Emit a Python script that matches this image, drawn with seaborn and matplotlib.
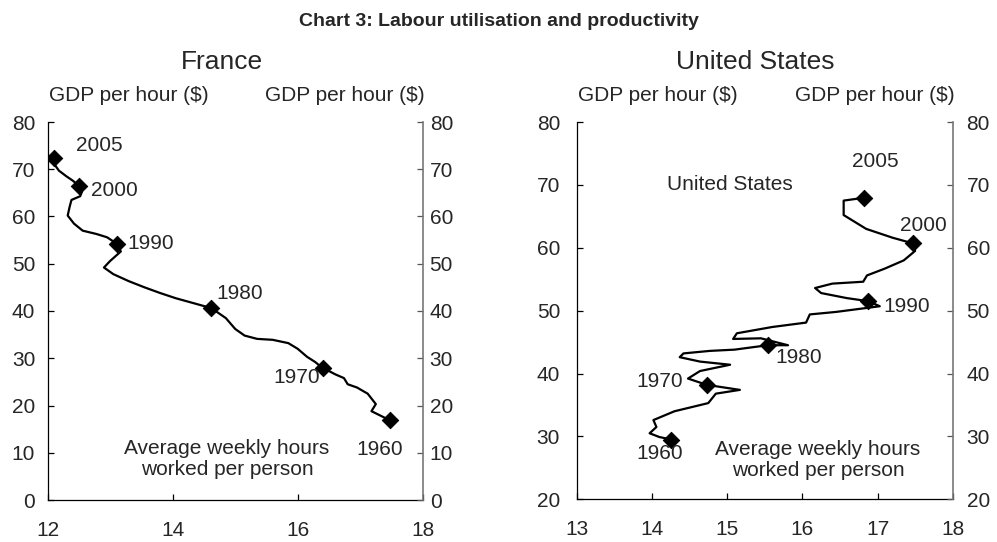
import numpy as np
import pandas as pd
import matplotlib
matplotlib.use("Agg")
import matplotlib.pyplot as plt
import seaborn as sns

# Annual series 1960-2005
years = list(range(1960, 2006))

fr_hours = [17.47, 17.18, 17.25, 17.12, 16.95, 16.80, 16.74, 16.60, 16.50, 16.45,
            16.40, 16.28, 16.15, 16.00, 15.85, 15.60, 15.35, 15.15, 15.00, 14.85,
            14.62, 14.35, 14.05, 13.80, 13.55, 13.30, 13.05, 12.90, 13.00, 13.17,
            13.11, 12.95, 12.78, 12.56, 12.42, 12.32, 12.35, 12.38, 12.52, 12.55,
            12.50, 12.40, 12.30, 12.18, 12.12, 12.10]
fr_gdp = [16.9, 18.8, 20.3, 22.5, 23.8, 24.5, 25.8, 26.6, 27.3, 27.6,
          27.9, 29.2, 30.3, 32.0, 33.2, 33.9, 34.1, 34.8, 36.2, 38.5,
          40.6, 41.6, 42.7, 43.8, 45.0, 46.3, 47.8, 49.2, 50.6, 52.6,
          54.2, 55.6, 56.3, 57.0, 58.5, 60.2, 62.0, 63.5, 64.3, 65.3,
          66.5, 67.6, 68.5, 69.7, 70.8, 72.4]

us_hours = [14.26, 14.10, 13.97, 14.06, 14.02, 14.30, 14.75, 14.85, 15.17, 14.95,
            14.73, 14.48, 14.64, 15.04, 14.64, 14.37, 14.42, 14.77, 15.10, 15.35,
            15.54, 15.81, 15.45, 15.08, 15.13, 15.60, 16.05, 16.10, 16.45, 17.03,
            16.88, 16.59, 16.25, 16.17, 16.40, 16.81, 16.86, 17.10, 17.35, 17.50,
            17.47, 17.20, 16.85, 16.55, 16.55, 16.82]
us_gdp = [29.5, 29.9, 30.5, 31.5, 32.6, 34.0, 35.3, 36.8, 37.4, 37.8,
          38.2, 39.2, 40.4, 41.4, 41.9, 42.6, 43.2, 43.6, 43.8, 44.2,
          44.5, 44.5, 45.6, 45.5, 46.4, 47.4, 48.1, 49.4, 49.8, 50.7,
          51.5, 52.0, 52.8, 53.6, 54.3, 54.6, 55.6, 56.7, 58.0, 59.5,
          60.7, 61.6, 63.0, 65.2, 67.5, 67.95]

marked_years = [1960, 1970, 1980, 1990, 2000, 2005]

# year label placement (x, y, alignment)
fr_labels = [(1960, 17.31, 10.6, "center"), (1970, 16.35, 26.0, "right"),
             (1980, 14.70, 43.6, "left"), (1990, 13.28, 54.2, "left"),
             (2000, 12.70, 65.6, "left"), (2005, 12.83, 75.1, "center")]
us_labels = [(1960, 14.11, 27.3, "center"), (1970, 14.42, 38.8, "right"),
             (1980, 15.64, 42.5, "left"), (1990, 17.08, 50.7, "left"),
             (2000, 17.61, 63.6, "center"), (2005, 16.97, 73.7, "center")]

sns.set_theme(style="white")
plt.rcParams["font.family"] = ["Liberation Sans", "DejaVu Sans"]

W, H = 997, 542
fig = plt.figure(figsize=(W / 100, H / 100), dpi=100)


def px_box(left, right, top, bottom):
    return [left / W, 1 - bottom / H, (right - left) / W, (bottom - top) / H]


panels = [
    dict(name="France", hours=fr_hours, gdp=fr_gdp, labels=fr_labels,
         box=px_box(47.7, 422.7, 122, 500), xlim=(12, 18), xticks=[12, 14, 16, 18],
         ylim=(0, 80), lpad=9, rpad=5, title_x=222,
         note=(14.87, 8.7)),
    dict(name="United States", hours=us_hours, gdp=us_gdp, labels=us_labels,
         box=px_box(576.7, 952.7, 122, 499.3), xlim=(13, 18), xticks=[13, 14, 15, 16, 17, 18],
         ylim=(20, 80), lpad=12, rpad=10, title_x=755,
         note=(16.21, 26.25)),
]

fs = 15
for p in panels:
    ax = fig.add_axes(p["box"])
    df = pd.DataFrame({"year": years, "hours": p["hours"], "gdp": p["gdp"]})
    sns.lineplot(data=df, x="hours", y="gdp", sort=False, estimator=None,
                 color="black", lw=1.6, ax=ax)
    sns.scatterplot(data=df[df["year"].isin(marked_years)], x="hours", y="gdp",
                    marker="D", s=70, color="black", edgecolor="black", zorder=3, ax=ax)

    ax.set_xlim(*p["xlim"])
    ax.set_ylim(*p["ylim"])
    ax.set_xticks(p["xticks"])
    ax.set_yticks(np.arange(p["ylim"][0], p["ylim"][1] + 1, 10))
    ax.set_xlabel("")
    ax.set_ylabel("")
    for s in ["top", "right"]:
        ax.spines[s].set_visible(False)
    for s in ["left", "bottom"]:
        ax.spines[s].set_color("black")
        ax.spines[s].set_linewidth(0.9)
    ax.tick_params(axis="x", direction="in", length=4, width=0.9, color="black",
                   labelsize=fs, pad=15, bottom=True)
    ax.tick_params(axis="y", direction="in", length=4, width=0.9, color="black",
                   labelsize=fs, pad=p["lpad"], left=True)

    ax2 = ax.twinx()
    ax2.set_ylim(*p["ylim"])
    ax2.set_yticks(np.arange(p["ylim"][0], p["ylim"][1] + 1, 10))
    for s in ["top", "left", "bottom"]:
        ax2.spines[s].set_visible(False)
    ax2.spines["right"].set_color("#777777")
    ax2.spines["right"].set_linewidth(1.2)
    ax2.tick_params(axis="y", direction="in", length=4, width=0.9, color="#555555",
                    labelsize=fs, pad=p["rpad"], right=True)

    for yr, x, y, ha in p["labels"]:
        ax.text(x, y, str(yr), ha=ha, va="center", fontsize=fs)
    ax.text(p["note"][0], p["note"][1], "Average weekly hours\nworked per person",
            ha="center", va="center", fontsize=fs, linespacing=1.15)
    if p["name"] == "United States":
        ax.text(15.04, 70.0, "United States", ha="center", va="center", fontsize=fs)

    # panel title and axis captions
    fig.text(p["title_x"] / W, 1 - 62 / H, p["name"], ha="center", va="center", fontsize=19)
    l, b, w, h = p["box"]
    fig.text(l + 1.5 / W, 1 - 101 / H, "GDP per hour ($)", ha="left", va="baseline", fontsize=fs)
    fig.text(l + w + 1.5 / W, 1 - 101 / H, "GDP per hour ($)", ha="right", va="baseline", fontsize=fs)

fig.text(0.5, 1 - 21 / H, "Chart 3: Labour utilisation and productivity",
         ha="center", va="center", fontsize=14, fontweight="bold")

fig.savefig("out.png", dpi=100)
